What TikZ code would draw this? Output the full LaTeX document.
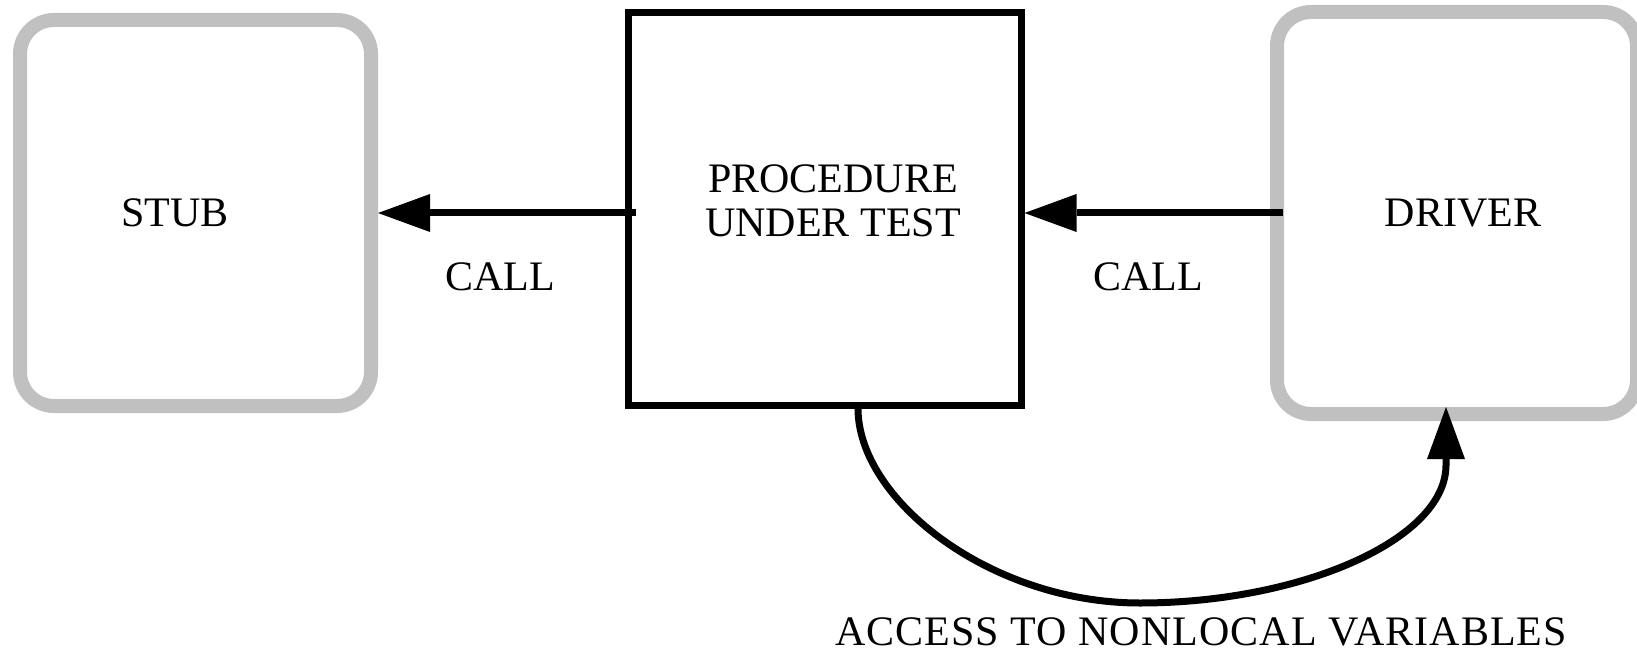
\documentclass[tikz,border=0pt]{standalone}
\usepackage{fontspec}
\setmainfont{Liberation Serif}
\usetikzlibrary{arrows.meta}
\definecolor{boxgray}{HTML}{C0C0C0}
\begin{document}
\begin{tikzpicture}[x=1pt,y=-1pt,
  lbl/.style={font=\fontsize{42}{44}\selectfont, inner sep=0pt},
  softbox/.style={draw=boxgray, line width=14pt, rounded corners=34pt, inner sep=0pt},
  hardbox/.style={draw=black, line width=7pt, inner sep=0pt},
  conn/.style={draw=black, line width=7pt, -{Triangle[length=52pt,width=38pt,line width=0pt]}}
]
\useasboundingbox (0,0) rectangle (1637,652);
\fill[white] (0,0) rectangle (1637,652);
% boxes
\node[softbox, minimum width=351pt, minimum height=386pt] (stub) at (195.5,213) {};
\node[hardbox, minimum width=393pt, minimum height=392pt] (put) at (824.5,209) {};
\node[softbox, minimum width=360pt, minimum height=402pt] (driver) at (1457,213) {};
% texts
\node[lbl, anchor=base] (stubtext) at (175,227) {STUB};
\node[lbl, anchor=base] (drivertext) at (1463,227) {DRIVER};
\node[lbl, align=center, anchor=center] (puttext) at (833,201) {PROCEDURE\\UNDER TEST};
\node[lbl, anchor=base] (call1) at (500,290) {CALL};
\node[lbl, anchor=base] (call2) at (1148,290) {CALL};
\node[lbl, anchor=base] (access) at (1201,645) {\addfontfeature{LetterSpace=2.5}ACCESS TO NONLOCAL VARIABLES};
% connectors
\coordinate (putin) at ([xshift=11pt]put.west);
\draw[conn] (putin |- stub.east) -- (stub.east);
\coordinate (drvin) at ([xshift=13pt]driver.west);
\draw[conn] (drvin) -- (drvin -| put.east);
\coordinate (cstart) at ([xshift=33.5pt]put.south);
\coordinate (ctip) at ([xshift=-11pt,yshift=14pt]driver.south);
\coordinate (cup) at ([yshift=-58pt]ctip);
\coordinate (cbot) at (1140,603);
\draw[conn] (cstart) .. controls +(0,91) and +(-150,0) .. (cbot)
  .. controls +(160,0) and +(0,75) .. (cup) -- (ctip);
\end{tikzpicture}
\end{document}
